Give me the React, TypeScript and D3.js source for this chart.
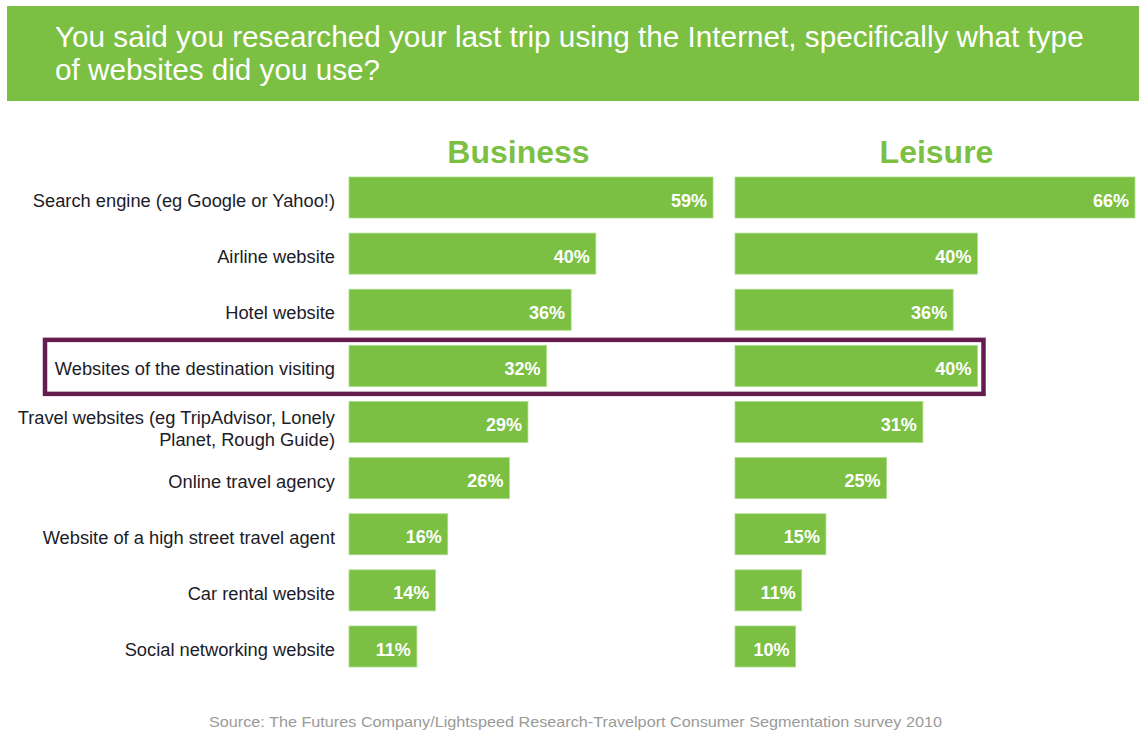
import React from 'react';
import * as d3 from 'd3';

const width = 1139;
const height = 733;

const categories = [
  'Search engine (eg Google or Yahoo!)',
  'Airline website',
  'Hotel website',
  'Websites of the destination visiting',
  'Travel websites (eg TripAdvisor, Lonely|Planet, Rough Guide)',
  'Online travel agency',
  'Website of a high street travel agent',
  'Car rental website',
  'Social networking website',
];
const business = [59, 40, 36, 32, 29, 26, 16, 14, 11];
const leisure = [66, 40, 36, 40, 31, 25, 15, 11, 10];
const highlighted = 'Websites of the destination visiting';

const titleLines = [
  'You said you researched your last trip using the Internet, specifically what type',
  'of websites did you use?',
];
const source = 'Source: The Futures Company/Lightspeed Research-Travelport Consumer Segmentation survey 2010';

const green = '#7bc043';
const font = '"Liberation Sans", Arial, sans-serif';

const y = d3.scalePoint<string>().domain(categories).range([197.5, 646.5]);
const barH = 41;
const xBus = d3.scaleLinear().domain([0, 100]).range([349, 966]);
const xLei = d3.scaleLinear().domain([0, 100]).range([735, 1341]);

const panels = [
  { name: 'Business', values: business, x: xBus, cx: 518.5 },
  { name: 'Leisure', values: leisure, x: xLei, cx: 936.5 },
];

const App: React.FC = () => {
  const hy = y(highlighted) as number;
  return (
    <div style={{ position: 'absolute', left: 0, top: 0 }}>
      <svg width={width} height={height} style={{ display: 'block', background: '#fff' }}>
        <rect x={7} y={6} width={width - 7} height={95} fill={green} />
        {titleLines.map((t, i) => (
          <text key={i} x={55} y={47 + i * 33} fill="#fff" fontFamily={font} fontSize={29.7}>
            {t}
          </text>
        ))}

        {categories.map(c => {
          const lines = c.split('|');
          const cy = y(c) as number;
          const b0 = cy + 9.5 - (lines.length - 1) * 7.5;
          return (
            <text key={c} textAnchor="end" fontFamily={font} fontSize={18.3} fill="#1c1c28">
              {lines.map((l, i) => (
                <tspan key={i} x={335} y={b0 + i * 22}>
                  {l}
                </tspan>
              ))}
            </text>
          );
        })}

        {panels.map(p => (
          <g key={p.name}>
            <text x={p.cx} y={163} textAnchor="middle" fontFamily={font} fontSize={32} fontWeight="bold" fill={green}>
              {p.name}
            </text>
            {p.values.map((v, i) => {
              const cy = y(categories[i]) as number;
              const x0 = p.x(0);
              const x1 = p.x(v);
              return (
                <g key={i}>
                  <rect x={x0} y={cy - barH / 2} width={x1 - x0} height={barH} fill={green} stroke="#a9dc85" strokeWidth={0.8} />
                  <text x={x1 - 6} y={cy + 9} textAnchor="end" fontFamily={font} fontSize={18} fontWeight="bold" fill="#fff">
                    {v}%
                  </text>
                </g>
              );
            })}
          </g>
        ))}

        <rect x={45} y={hy - 26} width={938.5} height={54} fill="none" stroke="#661c4e" strokeWidth={4.5} />

        <text
          x={575.5}
          y={727}
          textAnchor="middle"
          fontFamily={'"Liberation Sans Narrow", "Arial Narrow", "Liberation Sans", sans-serif'}
          fontSize={15}
          fill="#9a9a9a"
          textLength={733}
          lengthAdjust="spacingAndGlyphs"
        >
          {source}
        </text>
      </svg>
    </div>
  );
};

export default App;
